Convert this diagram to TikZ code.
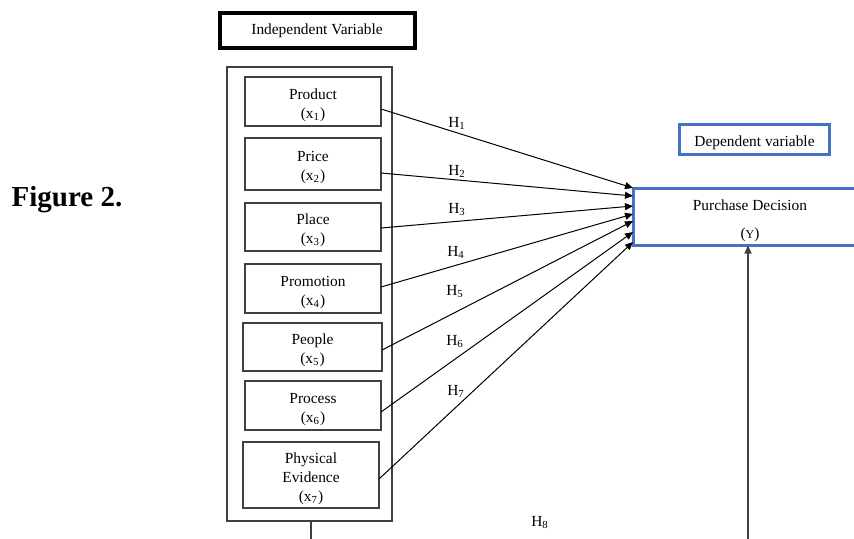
\documentclass[tikz,border=0pt]{standalone}
\usepackage{fontspec}
\setmainfont{Liberation Serif}
\usetikzlibrary{arrows.meta}
\definecolor{boxblue}{RGB}{68,114,196}
\definecolor{linegray}{RGB}{64,64,64}
\newcommand{\cellstack}[1]{\raisebox{-3.8pt}[0pt][0pt]{\begin{tabular}{@{}c@{}}#1\end{tabular}}}

\begin{document}
\begin{tikzpicture}[x=0.5pt, y=-0.5pt,
  every node/.style={inner sep=0pt, outer sep=0pt, font=\fontsize{7.7}{9.5}\selectfont},
  varbox/.style={draw=linegray, line width=0.65pt},
  depbox/.style={draw=boxblue, line width=1.5pt},
  hyp/.style={line width=0.5pt, -{Triangle[length=4pt,width=3.5pt]}}]
\useasboundingbox (0,0) rectangle (854,539);
\clip (0,0) rectangle (854,539);

\node[font=\fontsize{14.5}{17}\selectfont\bfseries] (figlabel) at (67,200) {Figure 2.};

\node[draw=black, line width=2pt, minimum width=97.5pt, minimum height=17.5pt] (indeptitle) at (317,31) {Independent Variable};
\node[draw=linegray, line width=0.75pt, minimum width=82.5pt, minimum height=227pt] (outer) at (309.5,294) {};

\node[varbox, minimum width=68pt, minimum height=24.5pt] (product) at (313,101.5) {\cellstack{Product\\(x\textsubscript{1})}};
\node[varbox, minimum width=68pt, minimum height=26pt] (price) at (313,164) {\cellstack{Price\\(x\textsubscript{2})}};
\node[varbox, minimum width=68pt, minimum height=24pt] (place) at (313,227) {\cellstack{Place\\(x\textsubscript{3})}};
\node[varbox, minimum width=68pt, minimum height=24.5pt] (promotion) at (313,288.5) {\cellstack{Promotion\\(x\textsubscript{4})}};
\node[varbox, minimum width=69.5pt, minimum height=24pt] (people) at (312.5,347) {\cellstack{People\\(x\textsubscript{5})}};
\node[varbox, minimum width=68pt, minimum height=24.5pt] (process) at (313,405.5) {\cellstack{Process\\(x\textsubscript{6})}};
\node[varbox, minimum width=68pt, minimum height=33pt] (physical) at (311,475) {\cellstack{Physical\\Evidence\\(x\textsubscript{7})}};

\node[depbox, minimum width=75pt, minimum height=15pt] (deplabel) at (754.5,139.5) {\cellstack{Dependent variable}};
\node[depbox, minimum width=117pt, minimum height=28.5pt] (purchase) at (750,217) {\cellstack{Purchase Decision\\[4.5pt]({\fontsize{6}{9.5}\selectfont Y})}};

% hypotheses
\draw[hyp] ([yshift=-3.75pt]product.east) -- ([yshift=14.5pt]purchase.west);
\draw[hyp] ([yshift=-4.5pt]price.east) -- ([yshift=10.5pt]purchase.west);
\draw[hyp] ([yshift=-0.5pt]place.east) -- ([yshift=5.5pt]purchase.west);
\draw[hyp] ([yshift=0.75pt]promotion.east) -- ([yshift=1.5pt]purchase.west);
\draw[hyp] ([yshift=-1.5pt]people.east) -- ([yshift=-2pt]purchase.west);
\draw[hyp] ([yshift=-3.25pt]process.east) -- ([yshift=-7.5pt]purchase.west);
\draw[hyp] ([yshift=-2pt]physical.east) -- ([yshift=-12.5pt]purchase.west);

\node (h1) at (457,123) {H\textsubscript{1}};
\node (h2) at (457,171) {H\textsubscript{2}};
\node (h3) at (457,210) {H\textsubscript{3}};
\node (h4) at (456,252) {H\textsubscript{4}};
\node (h5) at (455,292) {H\textsubscript{5}};
\node (h6) at (455,342) {H\textsubscript{6}};
\node (h7) at (456,391) {H\textsubscript{7}};
\node (h8) at (540,523) {H\textsubscript{8}};

\coordinate (h8foot) at (748,545);
\coordinate (outfoot) at (311,545);
\draw[hyp, draw=linegray, line width=0.75pt] (h8foot) -- (h8foot |- purchase.south);
\draw[linegray, line width=0.75pt] (outer.south -| outfoot) -- (outfoot);
\end{tikzpicture}
\end{document}
